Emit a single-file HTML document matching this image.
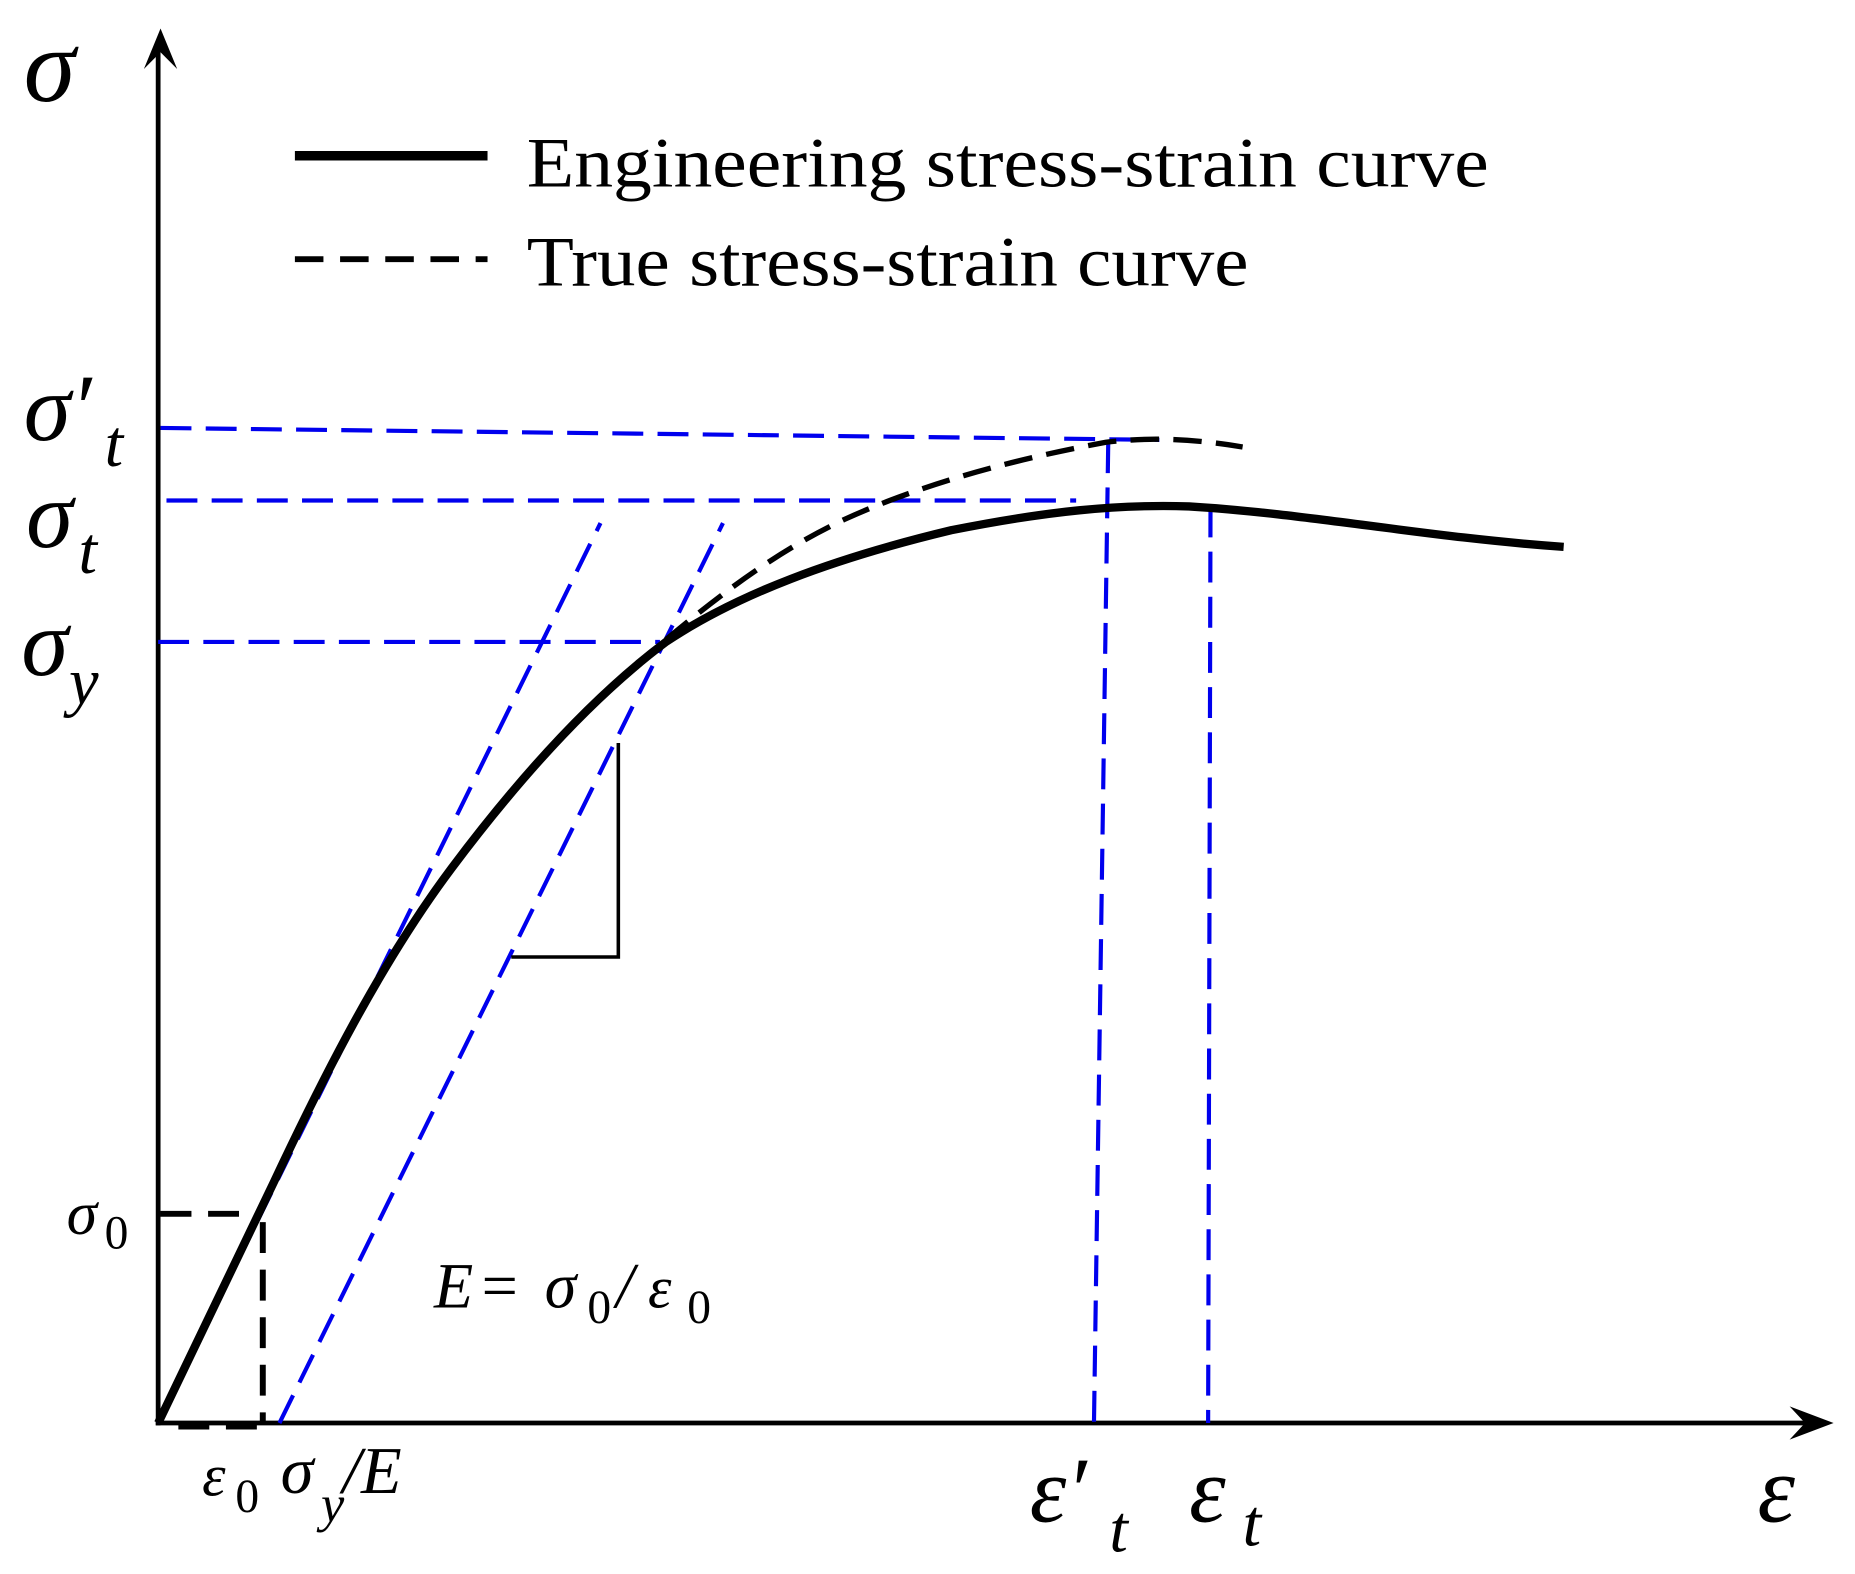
<!DOCTYPE html>
<html><head><meta charset="utf-8"><style>
html,body{margin:0;padding:0;background:#fff;}
svg{display:block;}
text{font-family:"Liberation Serif","DejaVu Serif",serif;font-style:italic;fill:#000;}
.n{font-style:normal;}
</style></head><body>
<svg width="1855" height="1574" viewBox="0 0 1560 1324" preserveAspectRatio="none" xmlns="http://www.w3.org/2000/svg">
<line x1="133" y1="1199" x2="133" y2="35" stroke="#000" stroke-width="4"/>
<path d="M121,58 L135,24 L149,58 L135,44 Z" fill="#000"/>
<line x1="131" y1="1197" x2="1525" y2="1197" stroke="#000" stroke-width="4"/>
<path d="M1505,1183 L1542,1197 L1505,1211 L1518,1197 Z" fill="#000"/>

<g stroke="#0000ee" stroke-width="3.5" fill="none" stroke-dasharray="26,12">
<line x1="135" y1="360" x2="975" y2="370"/>
<line x1="140" y1="421" x2="905" y2="421"/>
<line x1="133" y1="540" x2="555" y2="540"/>
<line x1="932" y1="372" x2="920" y2="1197"/>
<line x1="1018" y1="426" x2="1016" y2="1197"/>
<line x1="133" y1="1197" x2="505" y2="440"/>
<line x1="235" y1="1197" x2="608" y2="440"/>
</g>

<polyline points="520,625 520,805 430,805" fill="none" stroke="#000" stroke-width="3"/>

<g stroke="#000" stroke-width="5" stroke-dasharray="26,14" fill="none">
<line x1="135" y1="1021" x2="220" y2="1021"/>
<line x1="221" y1="1028" x2="221" y2="1197"/>
<line x1="150" y1="1200" x2="225" y2="1200"/>
</g>

<path d="M133,1197 L230,995 C270,910 320,810 380,730 C440,650 500,585 560,540 C620,500 700,470 800,446 C880,430 940,424 1000,426 C1100,432 1200,452 1315,460" fill="none" stroke="#000" stroke-width="7"/>
<path d="M560,538 C600,505 650,465 710,437 C780,405 860,385 930,372 C980,366 1020,372 1045,376" fill="none" stroke="#000" stroke-width="4.5" stroke-dasharray="24,12"/>

<line x1="248" y1="131" x2="410" y2="131" stroke="#000" stroke-width="8"/>
<line x1="248" y1="218" x2="410" y2="218" stroke="#000" stroke-width="5" stroke-dasharray="24,14"/>
<text class="n" x="443" y="157" font-size="60" textLength="809" lengthAdjust="spacingAndGlyphs">Engineering stress-strain curve</text>
<text class="n" x="443" y="240" font-size="60" textLength="607" lengthAdjust="spacingAndGlyphs">True stress-strain curve</text>

<text x="20" y="85" font-size="88">σ</text>
<text x="20" y="370" font-size="80">σ′</text>
<text x="88" y="392" font-size="56">t</text>
<text x="22" y="460" font-size="80">σ</text>
<text x="66" y="482" font-size="56">t</text>
<text x="18" y="568" font-size="80">σ</text>
<text x="58" y="592" font-size="56">y</text>
<text x="56" y="1038" font-size="52">σ</text>
<text x="88" y="1050" font-size="40" class="n">0</text>
<text x="365" y="1100" font-size="54">E</text>
<text x="405" y="1100" font-size="54" class="n">=</text>
<text x="458" y="1100" font-size="54">σ</text>
<text x="494" y="1113" font-size="40" class="n">0</text>
<text x="518" y="1100" font-size="54">/</text>
<text x="545" y="1100" font-size="50">ε</text>
<text x="578" y="1113" font-size="40" class="n">0</text>
<text x="170" y="1258" font-size="50">ε</text>
<text x="198" y="1272" font-size="40" class="n">0</text>
<text x="236" y="1256" font-size="56">σ</text>
<text x="270" y="1280" font-size="44">y</text>
<text x="288" y="1256" font-size="56">/E</text>
<text x="866" y="1280" font-size="78">ε′</text>
<text x="933" y="1305" font-size="56">t</text>
<text x="1000" y="1280" font-size="78">ε</text>
<text x="1045" y="1300" font-size="56">t</text>
<text x="1478" y="1280" font-size="80">ε</text>
</svg>
</body></html>
